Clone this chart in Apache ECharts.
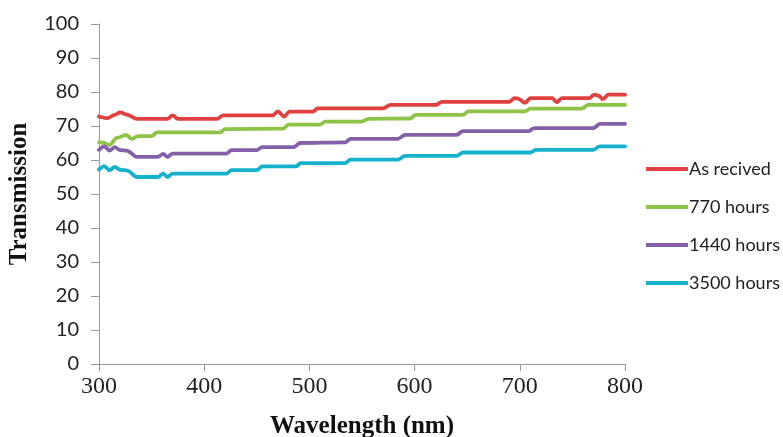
<!DOCTYPE html>
<html><head><meta charset="utf-8">
<script src="https://cdn.jsdelivr.net/npm/echarts@6/dist/echarts.min.js"></script>
<style>html,body{margin:0;padding:0;background:#fff}#c{width:783px;height:437px}</style>
</head><body><div id="c"></div>
<script>
const seriesNames = ['As recived', '770 hours', '1440 hours', '3500 hours'];
const xTicks = [300, 400, 500, 600, 700, 800];
const yTicks = [0, 10, 20, 30, 40, 50, 60, 70, 80, 90, 100];

const asReceived = [[300,72.8],[308,72.3],[315,73.3],[320,74.0],[327,73.3],[336,72.1],[365,72.1],[370,73.1],[375,72.1],[412,72.1],[418,73.1],[465,73.1],[470,74.3],[476,72.8],[481,74.2],[503,74.2],[508,75.2],[570,75.2],[577,76.2],[620,76.2],[626,77.1],[690,77.1],[695,78.2],[699,78.0],[705,76.8],[710,78.2],[731,78.2],[735,77.0],[740,78.2],[766,78.2],[771,79.2],[775,78.9],[779,77.9],[784,79.2],[800,79.2]];
const h770 = [[300,65.2],[304,65.1],[310,64.4],[317,66.5],[326,67.4],[331,66.2],[337,67.0],[350,67.0],[355,68.1],[415,68.1],[420,69.1],[475,69.2],[480,70.4],[510,70.4],[515,71.3],[550,71.3],[556,72.1],[596,72.2],[601,73.3],[646,73.3],[651,74.3],[705,74.3],[710,75.1],[759,75.1],[765,76.2],[800,76.2]];
const h1440 = [[300,63.0],[305,64.0],[310,62.8],[315,63.8],[320,62.9],[327,62.7],[336,60.9],[356,60.9],[361,61.8],[365,60.9],[370,61.9],[421,61.9],[426,62.9],[450,62.9],[455,63.8],[485,63.8],[491,65.0],[534,65.2],[539,66.2],[584,66.2],[591,67.4],[640,67.4],[646,68.5],[708,68.5],[714,69.4],[770,69.4],[776,70.6],[800,70.6]];
const h3500 = [[300,57.2],[305,58.2],[310,57.0],[315,58.0],[320,57.1],[327,56.9],[336,55.0],[356,55.0],[361,56.0],[365,55.0],[370,56.0],[421,56.0],[426,57.0],[450,57.0],[455,58.1],[487,58.1],[492,59.1],[534,59.1],[539,60.1],[584,60.1],[591,61.2],[640,61.2],[646,62.2],[710,62.2],[715,63.0],[770,63.0],[776,64.0],[800,64.0]];

const colors = ['#E0413E', '#8DC346', '#8560A8', '#16B1CC'];
const allData = [asReceived, h770, h1440, h3500];

const chart = echarts.init(document.getElementById('c'), null, {renderer: 'canvas'});
chart.setOption({
  animation: false,
  backgroundColor: '#fff',
  color: colors,
  grid: {left: 99, right: 158, top: 24, bottom: 73, containLabel: false, outerBoundsMode: 'none'},
  legend: {
    orient: 'vertical', left: 641, top: 155, itemGap: 20,
    itemWidth: 42, itemHeight: 17,
    textStyle: {fontFamily: 'Lato', fontSize: 18, color: '#222', padding: [0,0,0,-4]},
    data: seriesNames.map(n => ({name: n, icon: 'path://M0,0 L42,0 L42,4 L0,4 Z'}))
  },
  xAxis: {
    type: 'value', min: xTicks[0], max: xTicks[xTicks.length-1], interval: 100,
    name: 'Wavelength (nm)', nameLocation: 'middle', nameGap: 50,
    nameTextStyle: {fontFamily: 'Liberation Serif', fontWeight: 'bold', fontSize: 25, color: '#111'},
    axisLine: {lineStyle: {color: '#999', width: 1}},
    axisTick: {show: true, length: 7, lineStyle: {color: '#999'}},
    axisLabel: {fontFamily: 'Liberation Serif', fontSize: 24, color: '#222', margin: 11},
    splitLine: {show: false}
  },
  yAxis: {
    type: 'value', min: yTicks[0], max: yTicks[yTicks.length-1], interval: 10,
    name: 'Transmission', nameLocation: 'middle', nameGap: 67, nameRotate: 90,
    nameTextStyle: {fontFamily: 'Liberation Serif', fontWeight: 'bold', fontSize: 25, color: '#111'},
    axisLine: {show: true, lineStyle: {color: '#999', width: 1}},
    axisTick: {show: true, length: 8, lineStyle: {color: '#999'}},
    axisLabel: {fontFamily: 'Lato', fontSize: 20, color: '#222', margin: 20},
    splitLine: {show: false}
  },
  series: seriesNames.map((n, i) => ({
    name: n, type: 'line', data: allData[i], symbol: 'none',
    smooth: 0.3, smoothMonotone: 'x',
    lineStyle: {width: 3.8, color: colors[i], cap: 'round', join: 'round'},
    itemStyle: {color: colors[i]}
  }))
});
</script></body></html>
